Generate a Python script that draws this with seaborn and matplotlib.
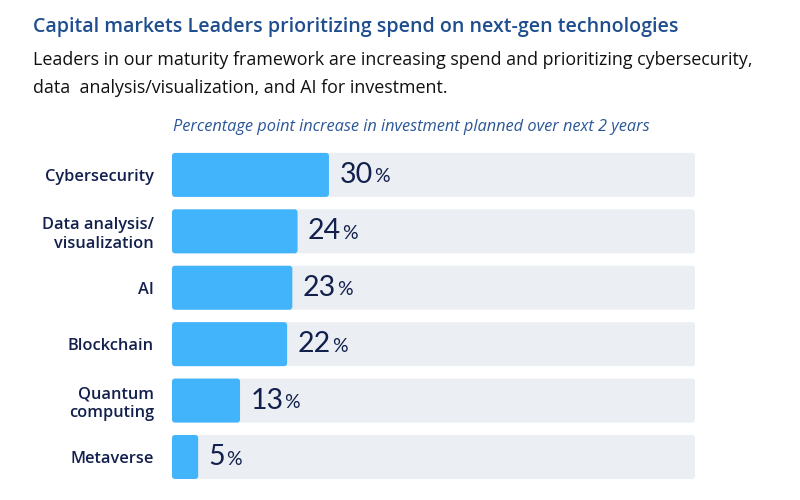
import matplotlib
matplotlib.use("Agg")
import matplotlib.pyplot as plt
from matplotlib.patches import FancyBboxPatch
import seaborn as sns
import pandas as pd

# chart data
categories = ["Cybersecurity", "Data analysis/\nvisualization", "AI",
              "Blockchain", "Quantum\ncomputing", "Metaverse"]
values = [30, 24, 23, 22, 13, 5]
track_max = 100

title = "Capital markets Leaders prioritizing spend on next-gen technologies"
subtitle = ("Leaders in our maturity framework are increasing spend and prioritizing cybersecurity,\n"
            "data  analysis/visualization, and AI for investment.")
caption = "Percentage point increase in investment planned over next 2 years"

bar_color = "#42B4FC"
track_color = "#EBEEF3"
navy = "#13204D"
title_color = "#1F4E8F"

df = pd.DataFrame({"category": categories, "value": values})
df["track"] = track_max

sns.set_style("white")
plt.rcParams["font.family"] = ["Open Sans", "DejaVu Sans"]

fig = plt.figure(figsize=(8, 5), dpi=100)
ax = fig.add_axes([0.215, 0.0296, 0.654, 0.677])

# grey track behind, blue value bar on top
sns.barplot(data=df, x="track", y="category", orient="h", color=track_color,
            width=0.78, saturation=1, ax=ax)
sns.barplot(data=df, x="value", y="category", orient="h", color=bar_color,
            width=0.78, saturation=1, ax=ax)

ax.set_xlim(0, track_max)
ax.set_ylim(len(categories) - 0.5, -0.5)

# swap the square bars for slightly rounded ones
fig.canvas.draw()
x_per_px = track_max / ax.bbox.width
y_per_px = len(categories) / ax.bbox.height
for p in list(ax.patches):
    x, y, w, h = p.get_x(), p.get_y(), p.get_width(), p.get_height()
    rb = FancyBboxPatch((x, y), w, h,
                        boxstyle=f"round,pad=0,rounding_size={3 * x_per_px}",
                        mutation_aspect=y_per_px / x_per_px,
                        facecolor=p.get_facecolor(), edgecolor="none",
                        zorder=p.get_zorder())
    p.remove()
    ax.add_patch(rb)

ax.set_xlabel("")
ax.set_ylabel("")
ax.set_xticks([])
sns.despine(ax=ax, left=True, bottom=True)
ax.tick_params(axis="y", length=0, pad=13)
for lab in ax.get_yticklabels():
    lab.set_fontsize(11.8)
    lab.set_fontweight(600)
    lab.set_color(navy)
    lab.set_linespacing(1.2)

# value labels: number + smaller percent sign
renderer = fig.canvas.get_renderer()
for i, v in enumerate(values):
    num = ax.annotate(str(v), xy=(v, i), xytext=(7.5, 0), textcoords="offset points",
                      ha="left", va="center", fontsize=20.5, fontweight="normal",
                      color=navy, family=["Lato", "DejaVu Sans"])
    fig.canvas.draw()
    bb = num.get_window_extent(renderer)
    x_px = bb.x1 + 1
    xd = ax.transData.inverted().transform((x_px, 0))[0]
    ax.annotate("%", xy=(xd, i), xytext=(0, -1.5), textcoords="offset points",
                ha="left", va="center", fontsize=14, color=navy,
                family=["Lato", "DejaVu Sans"])

fig.text(33 / 800, 1 - 27 / 500, title, ha="left", va="center", fontsize=14.1,
         fontweight=600, color=title_color)
fig.text(33 / 800, 1 - 74 / 500, subtitle, ha="left", va="center", fontsize=12.9,
         color="#111111", linespacing=1.72)
fig.text(411 / 800, 1 - 127 / 500, caption, ha="center", va="center", fontsize=11.8,
         style="italic", color="#2B5797")

fig.savefig("out.png", dpi=100)
